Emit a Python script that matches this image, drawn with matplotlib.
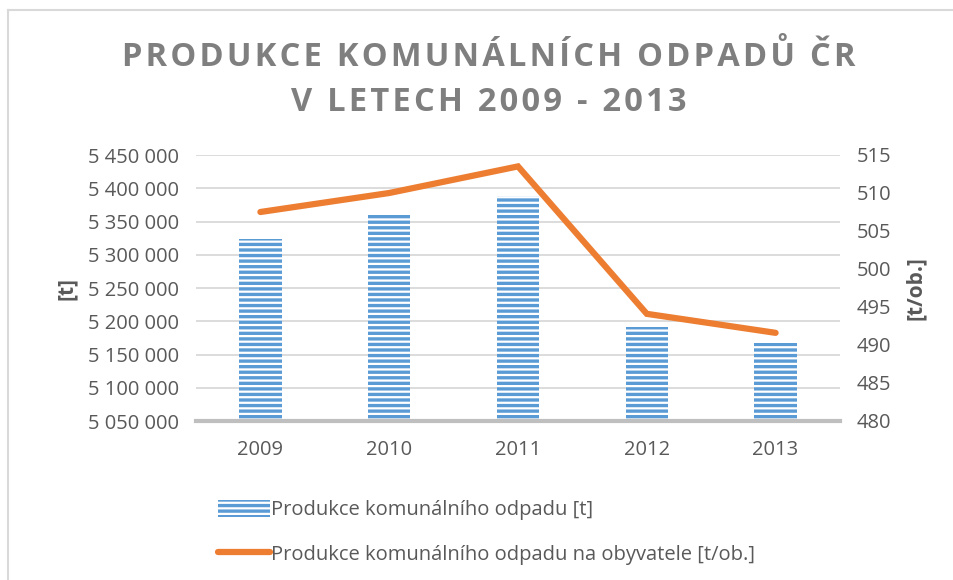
import matplotlib.pyplot as plt
from matplotlib.lines import Line2D
from matplotlib.patches import Patch
from matplotlib.ticker import FuncFormatter

years = ["2009", "2010", "2011", "2012", "2013"]
produkce_t = [5324100, 5362300, 5388300, 5191800, 5166800]
produkce_na_obyv = [507.5, 510.0, 513.5, 494.1, 491.6]

label_bar = "Produkce komunálního odpadu [t]"
label_line = "Produkce komunálního odpadu na obyvatele [t/ob.]"
title_lines = ["PRODUKCE KOMUNÁLNÍCH ODPADŮ ČR", "V LETECH 2009 - 2013"]

plt.rcParams['font.family'] = ['Open Sans', 'DejaVu Sans']
plt.rcParams['hatch.linewidth'] = 1.6

txt = '#595959'
blue = '#5B9BD5'
orange = '#ED7D31'

fig = plt.figure(figsize=(9.54, 5.8), dpi=100)
ax = fig.add_axes([196 / 954, 1 - 421 / 580, 644 / 954, 266 / 580])
ax2 = ax.twinx()

x = list(range(len(years)))
ax.bar(x, produkce_t, width=0.33, color=blue, edgecolor='white',
       hatch='---', linewidth=0, zorder=2)
ax.set_ylim(5050000, 5450000)
ax.set_xlim(-0.5, 4.5)
ax.set_yticks(range(5050000, 5450001, 50000))
ax.yaxis.set_major_formatter(FuncFormatter(lambda v, p: f"{int(v):,}".replace(",", " ")))
ax.set_xticks(x)
ax.set_xticklabels(years)
ax.grid(axis='y', color='#D9D9D9', linewidth=1.3, zorder=0)
ax.set_axisbelow(True)

ax2.plot(x, produkce_na_obyv, color=orange, linewidth=4.5,
         solid_capstyle='round', solid_joinstyle='miter', zorder=3)
ax2.set_ylim(480, 515)
ax2.set_yticks(range(480, 516, 5))

for a in (ax, ax2):
    for s in a.spines.values():
        s.set_visible(False)
    a.tick_params(length=0, labelsize=14.5, colors=txt, pad=12)
ax.tick_params(axis='x', pad=14)
ax.spines['bottom'].set_visible(True)
ax.spines['bottom'].set_color('#BFBFBF')
ax.spines['bottom'].set_linewidth(3)

ax.set_ylabel("[t]", fontsize=15, fontweight='bold', color=txt, labelpad=8)
ax2.set_ylabel("[t/ob.]", fontsize=15, fontweight='bold', color=txt,
               rotation=90, labelpad=10)

# rozestup písmen v nadpisu
title = "\n".join("\u200a".join(line) for line in title_lines)
fig.text(0.512, 1 - 80 / 580, title, ha='center', va='center', fontsize=23.5,
         fontweight='bold', color='#7F7F7F', linespacing=1.5)

handles = [Patch(facecolor=blue, edgecolor='white', hatch='---', linewidth=0),
           Line2D([0], [0], color=orange, linewidth=4.5, solid_capstyle='round')]
fig.legend(handles, [label_bar, label_line], loc='upper left',
           bbox_to_anchor=(200 / 954, 1 - 482 / 580), frameon=False,
           fontsize=14.5, labelcolor=txt, handlelength=2.6, handleheight=0.9,
           handletextpad=0.05, labelspacing=1.2)

fig.add_artist(Line2D([8 / 954, 8 / 954], [0, 1 - 10 / 580], transform=fig.transFigure,
                      color='#D9D9D9', linewidth=1.5))
fig.add_artist(Line2D([8 / 954, 1], [1 - 10 / 580, 1 - 10 / 580], transform=fig.transFigure,
                      color='#D9D9D9', linewidth=1.5))

fig.savefig('out.png', dpi=100)
